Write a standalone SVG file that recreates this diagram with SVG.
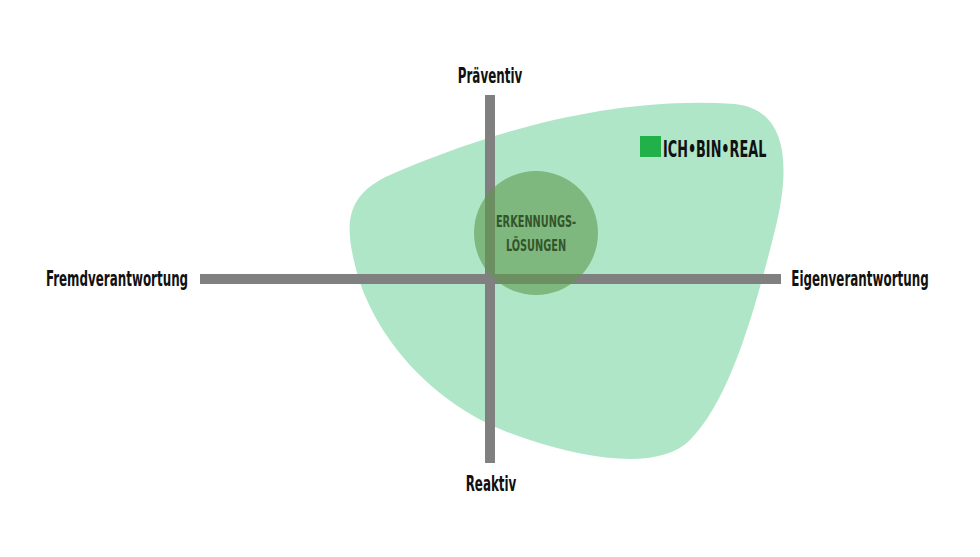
<svg xmlns="http://www.w3.org/2000/svg" width="980" height="557" viewBox="0 0 980 557">
<style>
.t{font-family:"DejaVu Sans Condensed","Liberation Sans",sans-serif;font-weight:bold;fill:#111}
.c{font-family:"DejaVu Sans Condensed","Liberation Sans",sans-serif;font-weight:bold;fill:#33552a}
</style>
<rect width="980" height="557" fill="#fff"/>
<g id="blob"><path d="M735,104 C790,110 790,170 775,230 C755,310 730,400 690,440 C660,470 590,460 530,440 C430,410 370,330 355,265 C345,225 345,195 390,175 C470,140 600,95 735,104 Z" fill="#b0e6c8"/></g>
<g id="connectors" fill="#808080">
<rect x="200" y="274" width="581" height="10"/>
<rect x="485" y="95" width="10" height="368"/>
</g>
<g id="circle"><circle cx="536" cy="233" r="62" fill="#5f9a4f" fill-opacity="0.6"/>
<text class="c" font-size="16" text-anchor="middle" transform="translate(536,227) scale(0.68,1)">ERKENNUNGS-</text>
<text class="c" font-size="16" text-anchor="middle" transform="translate(536,251) scale(0.68,1)">LÖSUNGEN</text></g>
<g id="logo"><rect x="640" y="136" width="21" height="21" fill="#22b04a"/>
<text class="t" font-size="23" transform="translate(663,157) scale(0.62,1)">ICH•BIN•REAL</text></g>
<g id="labels">
<text class="t" font-size="21" text-anchor="middle" transform="translate(490,83) scale(0.63,1)">Präventiv</text>
<text class="t" font-size="21" text-anchor="middle" transform="translate(491,491) scale(0.63,1)">Reaktiv</text>
<text class="t" font-size="21" text-anchor="middle" transform="translate(117,286) scale(0.63,1)">Fremdverantwortung</text>
<text class="t" font-size="21" text-anchor="middle" transform="translate(860,286) scale(0.63,1)">Eigenverantwortung</text>
</g>
</svg>
